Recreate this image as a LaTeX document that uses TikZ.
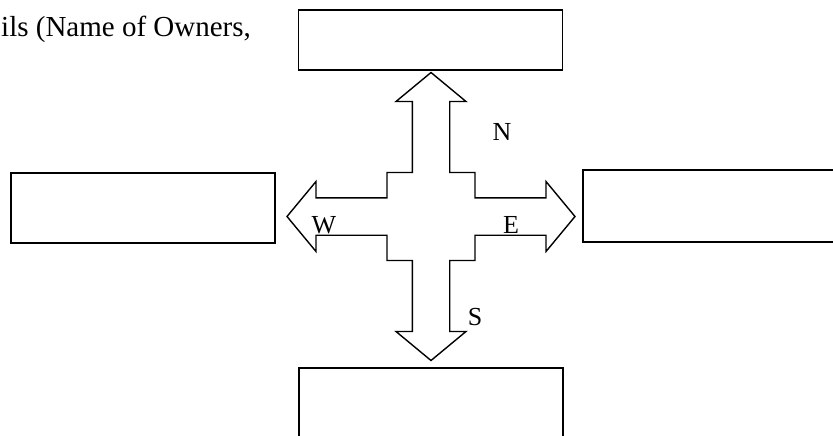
\documentclass[tikz,border=0pt]{standalone}
\usepackage{fontspec}
\setmainfont{Liberation Serif}
\usetikzlibrary{positioning}

\begin{document}
\begin{tikzpicture}[
      x=1pt, y=-1pt,
      plotbox/.style={
        draw,
        line width=1.6pt,
        minimum width=264pt,
        minimum height=60pt,
        inner sep=0pt
      },
      compass/.style={
        font=\fontsize{26}{30}\selectfont,
        anchor=base,
        inner sep=0pt
      },
      crossarrow/.style={
        draw,
        line width=1.4pt,
        line join=miter
      }
    ]
      \useasboundingbox (0,0) rectangle (833,436);
      \node[compass,anchor=base west,font=\fontsize{29}{33}\selectfont] (owners) at (1,37) {ils (Name of Owners,};
      % the four plots round the centre
      \node[plotbox] (north) at (430.5,40) {};
      \node[plotbox,minimum height=70pt] (west) at (143,208) {};
      \node[plotbox,minimum width=270pt,minimum height=72pt] (east) at (718,206) {};
      \node[plotbox,minimum height=72pt] (south) at (431,404) {};
      % four-way arrow
      \coordinate (hub) at (431,216.5);
      \begin{scope}[shift={(hub)}]
        \draw[crossarrow]
          (0,-144) -- (35,-115) -- (18.7,-115) -- (18.7,-44) -- (44,-44) -- (44,-18.7)
          -- (115,-18.7) -- (115,-35) -- (144,0) -- (115,35) -- (115,18.7)
          -- (44,18.7) -- (44,44) -- (18.7,44) -- (18.7,115) -- (35,115)
          -- (0,144) -- (-35,115) -- (-18.7,115) -- (-18.7,44) -- (-44,44) -- (-44,18.7)
          -- (-115,18.7) -- (-115,35) -- (-144,0) -- (-115,-35) -- (-115,-18.7)
          -- (-44,-18.7) -- (-44,-44) -- (-18.7,-44) -- (-18.7,-115) -- (-35,-115)
          -- cycle;
      \end{scope}
      \node[compass] (n) at (502,140) {N};
      \node[compass] (w) at (324,233) {W};
      \node[compass] (e) at (511,233) {E};
      \node[compass] (s) at (475,325) {S};
    \end{tikzpicture}
\end{document}
